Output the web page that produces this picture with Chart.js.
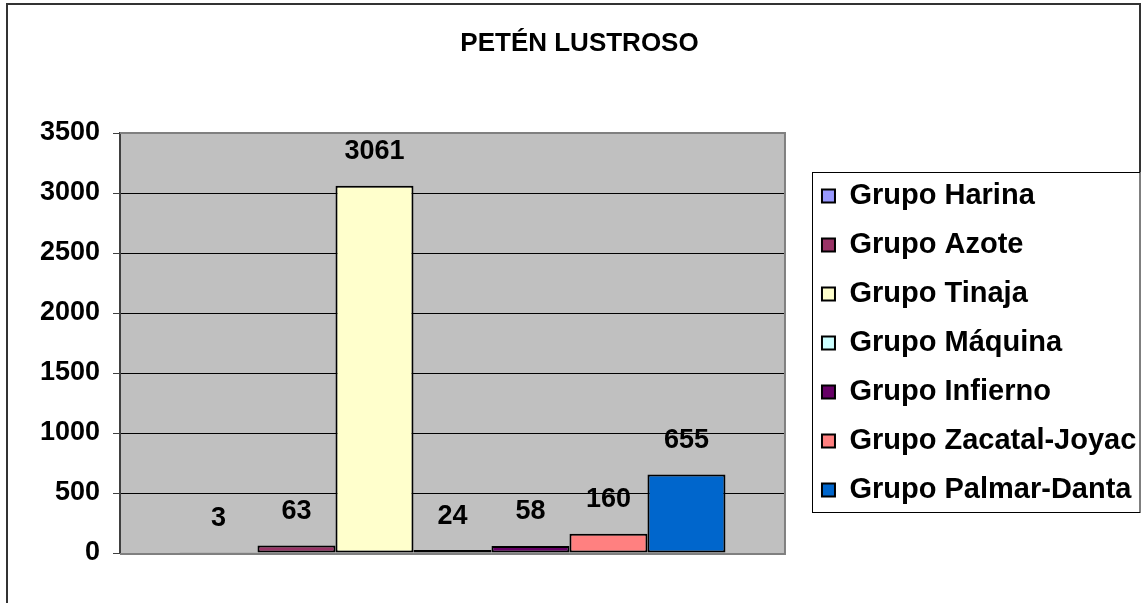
<!DOCTYPE html>
<html>
<head>
<meta charset="utf-8">
<script src="https://cdn.jsdelivr.net/npm/chart.js@4/dist/chart.umd.min.js"></script>
<style>
    body { margin: 0; background: #fff; }
    canvas { display: block; }
</style>
</head>
<body>
<canvas id="chart" width="1143" height="603"></canvas>
<script>
const titleText = 'PETÉN LUSTROSO'
const categories = ['']
const seriesNames = [
    'Grupo Harina',
    'Grupo Azote',
    'Grupo Tinaja',
    'Grupo Máquina',
    'Grupo Infierno',
    'Grupo Zacatal-Joyac',
    'Grupo Palmar-Danta'
]
const seriesValues = [3, 63, 3061, 24, 58, 160, 655]
const seriesColors = ['#9999FF', '#993366', '#FFFFCC', '#CCFFFF', '#660066', '#FF8080', '#0066CC']
const yMin = 0
const yMax = 3500
const yStep = 500

const fontFamily = "'Liberation Sans', Arial, sans-serif"

// gray plot area, Excel style frames, legend/title moved into place
const plotFrame = {
    id: 'plotFrame',
    afterLayout(chart) {
        const area = chart.chartArea
        const legend = chart.legend
        legend.left = area.right + 17
        legend.right = chart.width
        legend.top = area.top
        legend.bottom = area.bottom
        const title = chart.titleBlock
        const tdx = 579.5 - (title.left + title.right) / 2
        title.left += tdx
        title.right += tdx
    },
    beforeDraw(chart) {
        const { ctx, chartArea: a } = chart
        ctx.save()
        ctx.fillStyle = '#C0C0C0'
        ctx.fillRect(a.left, a.top, a.right - a.left, a.bottom - a.top)
        ctx.restore()
    },
    beforeDatasetsDraw(chart) {
        const { ctx, chartArea: a } = chart
        ctx.save()
        ctx.strokeStyle = '#808080'
        ctx.lineWidth = 2
        ctx.beginPath()
        ctx.moveTo(a.left, a.top)
        ctx.lineTo(a.right, a.top)
        ctx.lineTo(a.right, a.bottom + 1)
        ctx.lineTo(a.left, a.bottom + 1)
        ctx.stroke()
        ctx.restore()
    },
    afterDraw(chart) {
        const { ctx, chartArea: a } = chart
        ctx.save()
        // legend box
        const cy = (a.top + a.bottom) / 2
        const lx = Math.round(chart.legend.left + 10) + 0.5
        ctx.strokeStyle = '#000'
        ctx.lineWidth = 1
        ctx.strokeRect(lx, Math.round(cy - 171) + 0.5, chart.width - 3 - lx, 340)
        // outer chart frame
        ctx.strokeStyle = '#333'
        ctx.lineWidth = 2
        ctx.beginPath()
        ctx.moveTo(7, chart.height)
        ctx.lineTo(7, 4)
        ctx.lineTo(1140, 4)
        ctx.lineTo(1140, Math.round(cy - 171))
        ctx.stroke()
        ctx.restore()
    }
}

const valueLabels = {
    id: 'valueLabels',
    afterDatasetsDraw(chart) {
        const ctx = chart.ctx
        ctx.save()
        ctx.font = 'bold 27px ' + fontFamily
        ctx.fillStyle = '#000'
        ctx.textAlign = 'center'
        ctx.textBaseline = 'middle'
        chart.data.datasets.forEach((ds, i) => {
            const bar = chart.getDatasetMeta(i).data[0]
            ctx.fillText(String(ds.data[0]), bar.x, bar.y - 34)
        })
        ctx.restore()
    }
}

Chart.defaults.font.family = fontFamily
Chart.defaults.color = '#000'

const datasets = seriesNames.map((name, i) => ({
    label: name,
    data: [seriesValues[i]],
    backgroundColor: seriesColors[i],
    borderColor: '#000',
    borderWidth: 2,
    borderSkipped: false,
    categoryPercentage: 0.821,
    barPercentage: 1
}))

new Chart(document.getElementById('chart').getContext('2d'), {
    type: 'bar',
    data: { labels: categories, datasets: datasets },
    plugins: [plotFrame, valueLabels],
    options: {
        responsive: false,
        animation: false,
        events: [],
        // right padding picked so the (width capped) legend leaves the plot ending at x=785
        layout: { padding: { top: 0, left: 7, right: 98.7, bottom: 50 } },
        plugins: {
            title: {
                display: true,
                text: titleText,
                color: '#000',
                font: { size: 26, weight: 'bold' },
                padding: { top: 28, bottom: 73.8 }
            },
            legend: {
                position: 'right',
                align: 'center',
                labels: {
                    boxWidth: 13,
                    boxHeight: 13,
                    padding: 20,
                    color: '#000',
                    font: { size: 29, weight: 'bold' }
                }
            },
            tooltip: { enabled: false }
        },
        scales: {
            x: { display: false, grid: { display: false } },
            y: {
                min: yMin,
                max: yMax,
                afterFit: scale => { scale.width = 113 },
                ticks: {
                    stepSize: yStep,
                    padding: 13,
                    color: '#000',
                    font: { size: 27, weight: 'bold' },
                    callback: v => String(v)
                },
                grid: { color: '#000', lineWidth: 1, tickLength: 7, tickColor: '#404040' },
                border: { display: true, color: '#404040', width: 2 }
            }
        }
    }
})
</script>
</body>
</html>
